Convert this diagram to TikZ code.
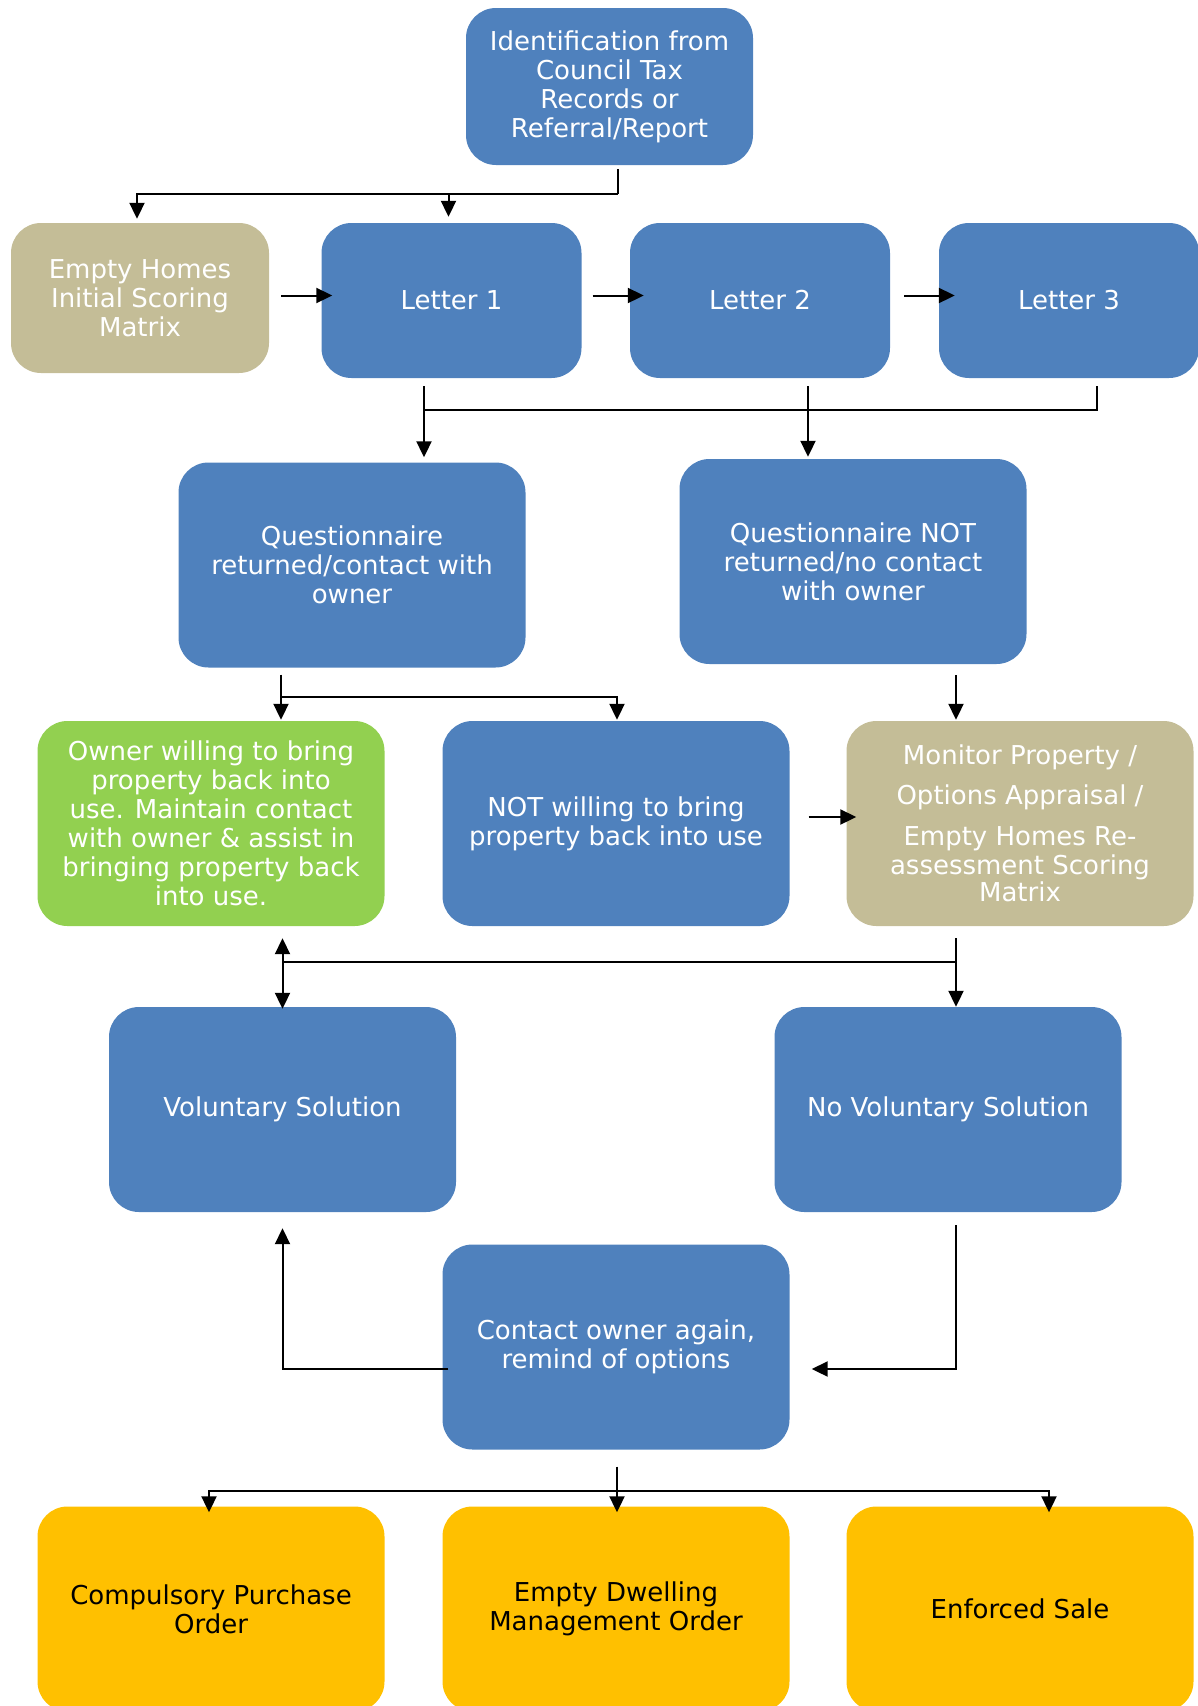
\documentclass[tikz,border=0pt]{standalone}
\usepackage{fontspec}
\setmainfont{DejaVu Sans}
\usepackage{tikz}
\usetikzlibrary{calc,arrows.meta,positioning}
\usepackage{xcolor}
\definecolor{boxblue}{HTML}{4F81BD}
\definecolor{boxtan}{HTML}{C4BD97}
\definecolor{boxgreen}{HTML}{92D050}
\definecolor{boxamber}{HTML}{FFC000}
\newcommand{\boxfont}{\fontsize{26}{29}\selectfont}

\begin{document}
\begin{tikzpicture}[>={Triangle[length=16pt,width=15pt]}, link/.style={draw=black, line width=#1}]
    % Define styles for boxes
    \tikzstyle{block} = [rectangle, rounded corners=30pt, inner sep=0pt, minimum width=347pt, minimum height=205pt, fill=boxblue, text=white, align=center, font=\boxfont]
    \tikzstyle{letterblock} = [block, minimum width=260pt, minimum height=155pt]
    \tikzstyle{tan} = [fill=boxtan]
    \tikzstyle{green} = [fill=boxgreen]
    \tikzstyle{amber} = [fill=boxamber, text=black]
    \tikzstyle{split} = [coordinate]

    \useasboundingbox (0,0) rectangle (1198pt,-1706pt);

    % Nodes placement
    \node [block, minimum width=287pt, minimum height=157pt] (ident) at (609.5pt,-86.5pt) {Identification from\\Council Tax\\Records or\\Referral/Report};
    \node [letterblock, below of=ident, node distance=214pt, xshift=-158pt] (letter1) {Letter 1};
    \node [letterblock, tan, minimum width=258pt, minimum height=150pt, left of=letter1, node distance=311.5pt, yshift=2.5pt] (scoring) {Empty Homes\\Initial Scoring\\Matrix};
    \node [letterblock, right of=letter1, node distance=308.5pt] (letter2) {Letter 2};
    \node [letterblock, right of=letter2, node distance=309pt] (letter3) {Letter 3};

    \node [block, below of=letter1, node distance=264.5pt, xshift=-99.5pt] (qyes) {Questionnaire\\returned/contact with\\owner};
    \node [block, right of=qyes, node distance=501pt, yshift=3.5pt] (qno) {Questionnaire NOT\\returned/no contact\\with owner};

    \node [block, green, below of=qyes, node distance=258.5pt, xshift=-141pt] (willing) {Owner willing to bring\\property back into\\use. Maintain contact\\with owner \& assist in\\bringing property back\\into use.};
    \node [block, right of=willing, node distance=405pt] (notwilling) {NOT willing to bring\\property back into use};
    \node [block, tan, right of=notwilling, node distance=404pt] (monitor) {Monitor Property /\\[11pt]Options Appraisal /\\[12pt]Empty Homes Re-\\assessment Scoring\\[-2pt]Matrix};

    \node [block, below of=willing, node distance=286pt, xshift=71.5pt] (voluntary) {Voluntary Solution};
    \node [block, right of=voluntary, node distance=665.5pt] (novoluntary) {No Voluntary Solution};
    \node [block, below of=notwilling, node distance=523.5pt] (contact) {Contact owner again,\\remind of options};

    \node [block, amber, below of=contact, node distance=262pt] (edmo) {Empty Dwelling\\Management Order};
    \node [block, amber, left of=edmo, node distance=405pt] (cpo) {Compulsory Purchase\\Order};
    \node [block, amber, right of=edmo, node distance=404pt] (sale) {Enforced Sale};

    % Split points of the connectors
    \node [split, below of=ident, node distance=107.5pt, xshift=8pt] (split1) {};
    \node [split, below of=letter1, node distance=109.5pt, xshift=-27.5pt] (split2) {};
    \node [split, below of=qyes, node distance=132pt, xshift=-71pt] (split3) {};
    \node [split, below of=monitor, node distance=138.5pt, xshift=-64pt] (split4) {};
    \node [split, below of=contact, node distance=143.5pt] (split5) {};

    % Draw edges
    \draw[link=2pt] ($(split1 |- ident.south)+(0,-4pt)$) -- (split1);
    \draw[link=2pt,->] (split1) -| ($(scoring.north)+(-3pt,4pt)$);
    \draw[link=2pt,->] ($(split1 -| letter1.north)+(-3pt,0)$) -- ($(letter1.north)+(-3pt,6pt)$);

    \draw[link=2pt,->] ($(scoring.east |- letter1.west)+(12pt,5pt)$) -- ($(letter1.west)+(11pt,5pt)$);
    \draw[link=2pt,->] ($(letter1.east)+(11pt,5pt)$) -- ($(letter2.west)+(14pt,5pt)$);
    \draw[link=2pt,->] ($(letter2.east)+(14pt,5pt)$) -- ($(letter3.west)+(16pt,5pt)$);

    \draw[link=2pt,->] ($(split2 |- letter1.south)+(0,-8pt)$) -- ($(split2 |- qyes.north)+(0,5pt)$);
    \draw[link=2pt] ($(letter3.south)+(28pt,-8pt)$) |- (split2);
    \draw[link=2pt,->] ($(letter2.south)+(48pt,-8pt)$) -- ($(letter2.south |- qno.north)+(48pt,2pt)$);

    \draw[link=2pt,->] ($(split3 |- qyes.south)+(0,-7pt)$) -- ($(split3 |- willing.north)+(0,1pt)$);
    \draw[link=2pt,->] (split3) -| ($(notwilling.north)+(1pt,1pt)$);
    \draw[link=2pt,->] ($(qno.south -| monitor.north)+(-64pt,-11pt)$) -- ($(monitor.north)+(-64pt,1pt)$);
    \draw[link=2pt,->] ($(notwilling.east)+(19pt,6.5pt)$) -- ($(monitor.west)+(10pt,6.5pt)$);

    \draw[link=2pt,->] ($(split4 |- monitor.south)+(0,-12pt)$) -- (split4 |- novoluntary.north);
    \draw[link=2pt] (split4) -- (split4 -| voluntary.north);
    \draw[link=2pt,<->] ($(voluntary.north |- willing.south)+(0,-12pt)$) -- ($(voluntary.north)+(0,-2pt)$);

    \draw[link=2pt,->] ($(novoluntary.south)+(8pt,-13pt)$) |- ($(contact.east)+(22pt,-22pt)$);
    \draw[link=2pt,->] ($(contact.west)+(6pt,-22pt)$) -| ($(voluntary.south)+(0,-16pt)$);

    \draw[link=2pt,->] ($(contact.south)+(1pt,-17pt)$) -- ($(edmo.north)+(1pt,-6pt)$);
    \draw[link=2pt,->] (split5) -| ($(cpo.north)+(-2pt,-6pt)$);
    \draw[link=2pt,->] (split5) -| ($(sale.north)+(29pt,-6pt)$);
\end{tikzpicture}
\end{document}
